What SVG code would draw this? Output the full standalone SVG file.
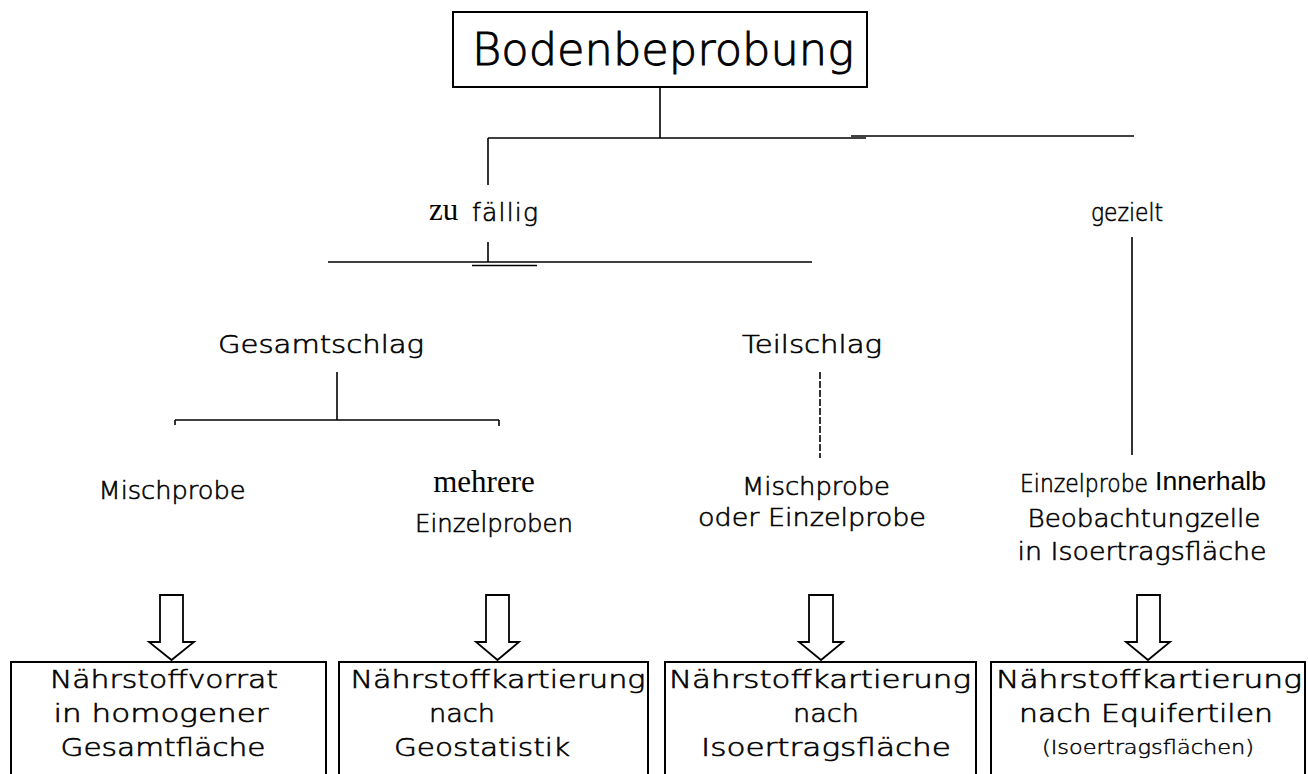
<svg xmlns="http://www.w3.org/2000/svg" width="1308" height="774" viewBox="0 0 1308 774">
<style>
.ln{stroke:#000;stroke-width:1.6;fill:none}
.box{stroke:#000;stroke-width:2;fill:#fff}
.arr{stroke:#000;stroke-width:1.8;fill:#fff;stroke-linejoin:miter}
.t,.b{font-family:"DejaVu Sans","Liberation Sans",sans-serif;font-weight:200;font-size:25px;fill:#000;stroke:#000;stroke-width:0.6;text-anchor:middle}
.s{font-family:"Liberation Serif","Times New Roman",serif;font-size:31px;fill:#000}
.a{font-family:"Liberation Sans",Arial,sans-serif;fill:#000}
</style>
<rect width="1308" height="774" fill="#fff"/>
<g id="connectors">
<line class="ln" x1="660" y1="87" x2="660" y2="138"/>
<line class="ln" x1="488" y1="138" x2="866" y2="138"/>
<line class="ln" x1="851" y1="136" x2="1134" y2="136"/>
<line class="ln" x1="488" y1="138" x2="488" y2="185"/>
<line class="ln" x1="488" y1="242" x2="488" y2="262"/>
<line class="ln" x1="328" y1="262" x2="812" y2="262"/>
<line class="ln" x1="472" y1="265.5" x2="537" y2="265.5"/>
<line class="ln" x1="1132" y1="237" x2="1132" y2="455"/>
<line class="ln" x1="337" y1="372" x2="337" y2="420"/>
<line class="ln" x1="175" y1="420" x2="499" y2="420"/>
<line class="ln" x1="175" y1="420" x2="175" y2="425"/>
<line class="ln" x1="499" y1="420" x2="499" y2="426"/>
<line class="ln" x1="820" y1="372" x2="820" y2="458" stroke-dasharray="7 2"/>
</g>
<g id="arrows">
<path class="arr" d="M160,595 L183,595 L183,642 L194,642 L171.5,660 L149,642 L160,642 Z"/>
<path class="arr" d="M486,595 L509,595 L509,642 L519,642 L497.5,660 L476,642 L486,642 Z"/>
<path class="arr" d="M809,595 L833,595 L833,642 L843,642 L821,660 L799,642 L809,642 Z"/>
<path class="arr" d="M1137,595 L1160,595 L1160,642 L1170,642 L1148,660 L1126,642 L1137,642 Z"/>
</g>
<g id="root">
<rect class="box" x="453" y="12" width="414" height="75" stroke-width="3"/>
<text class="t" x="663" y="65" style="font-size:44px;stroke-width:0.9px" textLength="382" lengthAdjust="spacingAndGlyphs">Bodenbeprobung</text>
</g>
<g id="zufaellig">
<text class="s" x="429" y="220">zu</text>
<text class="t" x="505" y="221" textLength="66">fällig</text>
</g>
<g id="gezielt"><text class="t" x="1127" y="221" textLength="72" lengthAdjust="spacingAndGlyphs">gezielt</text></g>
<g id="gesamtschlag"><text class="t" x="321" y="353" textLength="206" lengthAdjust="spacingAndGlyphs">Gesamtschlag</text></g>
<g id="teilschlag"><text class="t" x="812" y="353" textLength="140" lengthAdjust="spacingAndGlyphs">Teilschlag</text></g>
<g id="mischprobe1"><text class="t" x="172" y="499" textLength="147" lengthAdjust="spacingAndGlyphs">Mischprobe</text></g>
<g id="einzelproben">
<text class="s" x="484" y="492" text-anchor="middle">mehrere</text>
<text class="t" x="494" y="532" textLength="158" lengthAdjust="spacingAndGlyphs">Einzelproben</text>
</g>
<g id="mischprobe2">
<text class="t" x="816" y="495" textLength="148" lengthAdjust="spacingAndGlyphs">Mischprobe</text>
<text class="t" x="812" y="526" textLength="228" lengthAdjust="spacingAndGlyphs">oder Einzelprobe</text>
</g>
<g id="einzelprobe3">
<text class="t" x="1084" y="492" textLength="128" lengthAdjust="spacingAndGlyphs">Einzelprobe</text>
<text class="a" x="1155" y="490" font-size="26" textLength="111" lengthAdjust="spacingAndGlyphs">Innerhalb</text>
<text class="t" x="1144" y="527" textLength="233" lengthAdjust="spacingAndGlyphs">Beobachtungzelle</text>
<text class="t" x="1142" y="560" textLength="249" lengthAdjust="spacingAndGlyphs">in Isoertragsfläche</text>
</g>
<g id="box1">
<rect class="box" x="11" y="662" width="315" height="125"/>
<text class="b" x="164" y="688" textLength="228" lengthAdjust="spacingAndGlyphs">Nährstoffvorrat</text>
<text class="b" x="161" y="722" textLength="215" lengthAdjust="spacingAndGlyphs">in homogener</text>
<text class="b" x="163" y="756" textLength="205" lengthAdjust="spacingAndGlyphs">Gesamtfläche</text>
</g>
<g id="box2">
<rect class="box" x="339" y="662" width="309" height="125"/>
<text class="b" x="498" y="688" textLength="295" lengthAdjust="spacingAndGlyphs">Nährstoffkartierung</text>
<text class="b" x="462" y="722" textLength="66" lengthAdjust="spacingAndGlyphs">nach</text>
<text class="b" x="482" y="756" textLength="176" lengthAdjust="spacingAndGlyphs">Geostatistik</text>
</g>
<g id="box3">
<rect class="box" x="665" y="662" width="311" height="125"/>
<text class="b" x="820" y="688" textLength="302" lengthAdjust="spacingAndGlyphs">Nährstoffkartierung</text>
<text class="b" x="826" y="722" textLength="66" lengthAdjust="spacingAndGlyphs">nach</text>
<text class="b" x="826" y="756" textLength="250" lengthAdjust="spacingAndGlyphs">Isoertragsfläche</text>
</g>
<g id="box4">
<rect class="box" x="991" y="662" width="314" height="125"/>
<text class="b" x="1149" y="688" textLength="306" lengthAdjust="spacingAndGlyphs">Nährstoffkartierung</text>
<text class="b" x="1146" y="722" textLength="254" lengthAdjust="spacingAndGlyphs">nach Equifertilen</text>
<text class="b" x="1148" y="754" style="font-size:20px;stroke-width:0.45px" textLength="212" lengthAdjust="spacingAndGlyphs">(Isoertragsflächen)</text>
</g>
</svg>
